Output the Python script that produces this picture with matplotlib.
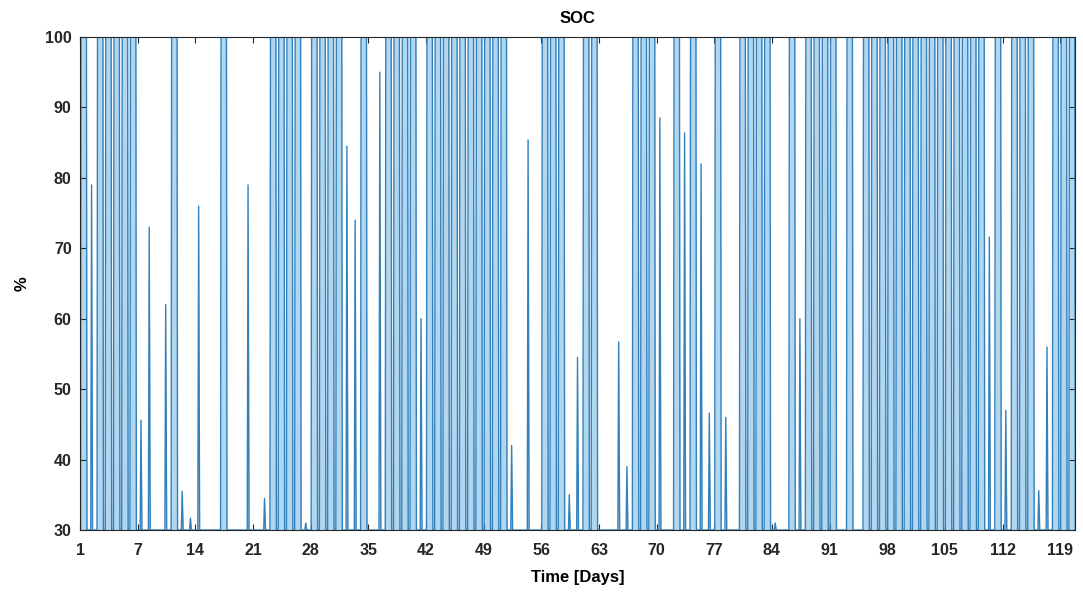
import numpy as np
import matplotlib.pyplot as plt

plt.rcParams.update({'font.family': ['Liberation Sans', 'DejaVu Sans'], 'font.weight': 'bold'})

# daily peak state of charge [%], day 1 .. day 121 (30 = battery stayed empty)
peak_soc = [
    100, 79, 100, 100, 100, 100, 100, 45.6, 73, 30,
    62, 100, 35.5, 31.7, 76, 30, 30, 100, 30, 30,
    79, 30, 34.5, 100, 100, 100, 100, 31, 100, 100,
    100, 100, 84.5, 74, 100, 30, 95, 100, 100, 100,
    100, 60, 100, 100, 100, 100, 100, 100, 100, 100,
    100, 100, 42, 30, 85.4, 30, 100, 100, 100, 35,
    54.5, 100, 100, 30, 30, 56.7, 39, 100, 100, 100,
    88.5, 30, 100, 86.4, 100, 82, 46.6, 100, 46, 30,
    100, 100, 100, 100, 31, 30, 100, 60, 100, 100,
    100, 100, 30, 100, 30, 100, 100, 100, 100, 100,
    100, 100, 100, 100, 100, 100, 100, 100, 100, 100,
    71.6, 100, 47, 100, 100, 100, 35.6, 56, 100, 100,
    100,
]
soc_min = 30
tick_days = [0] + list(range(7, 120, 7))
tick_labels = ['1'] + [str(d) for d in range(7, 120, 7)]

# build the time series: charge in the day, hold, discharge back to minimum
t = [0.0]
soc = [soc_min]
for k, p in enumerate(peak_soc):
    if p >= 99.5:
        t += [k + 0.06, k + 0.12, k + 0.78, k + 0.84]
        soc += [soc_min, p, p, soc_min]
    elif p > soc_min:
        t += [k + 0.30, k + 0.40, k + 0.52]
        soc += [soc_min, p, soc_min]
t.append(120.8)
soc.append(soc_min)
t = np.array(t)
soc = np.array(soc)

fig = plt.figure(figsize=(10.83, 6.01), dpi=100)
ax = fig.add_axes([0.0739, 0.1181, 0.9187, 0.8203])
ax.fill_between(t, soc_min, soc, color='#b0d6f0', lw=0)
ax.plot(t, soc, color='#3380bb', lw=1.0)

ax.set_xlim(0, 120.8)
ax.set_ylim(30, 100)
ax.set_xticks(tick_days)
ax.set_xticklabels(tick_labels)
ax.set_yticks(range(30, 101, 10))
ax.tick_params(direction='in', top=True, right=True, length=4, width=0.8,
               labelsize=11.5, colors='#262626')
ax.tick_params(axis='x', pad=9)
ax.tick_params(axis='y', pad=6)
for s in ax.spines.values():
    s.set_color('#262626')
    s.set_linewidth(0.8)

ax.set_title('SOC', fontsize=12, fontweight='bold', pad=10)
ax.set_xlabel('Time [Days]', fontsize=12, fontweight='bold', labelpad=9)
ax.set_ylabel('%', fontsize=12, fontweight='bold', labelpad=11)

fig.savefig('out.png', dpi=100)
